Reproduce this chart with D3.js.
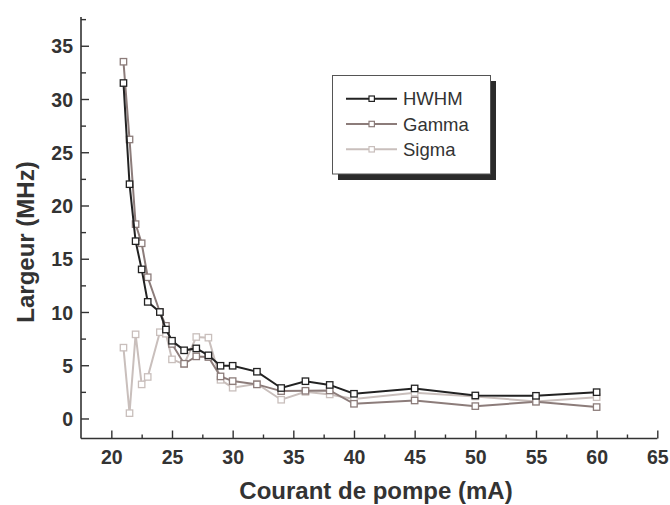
<!DOCTYPE html>
<html><head><meta charset="utf-8">
<script src="https://cdn.jsdelivr.net/npm/d3@7"></script>
<style>
html,body{margin:0;padding:0;background:#fff;}
svg{display:block;font-family:"Liberation Sans",Arial,Helvetica,sans-serif;}
</style></head>
<body>
<svg id="chart" width="670" height="505"></svg>
<script>
const current = [21, 21.5, 22, 22.5, 23, 24, 24.5, 25, 26, 27, 28, 29, 30, 32, 34, 36, 38, 40, 45, 50, 55, 60];
const hwhm  = [31.5, 22.0, 16.65, 14.0, 10.95, 10.0, 8.35, 7.3, 6.4, 6.58, 5.93, 4.95, 4.95, 4.39, 2.86, 3.5, 3.15, 2.32, 2.82, 2.16, 2.13, 2.47];
const gamma = [33.5, 26.2, 18.25, 16.45, 13.26, 10.0, 8.7, 7.0, 5.14, 5.83, 5.77, 3.95, 3.51, 3.2, 2.57, 2.6, 2.63, 1.38, 1.69, 1.16, 1.57, 1.07];
const sigma = [6.65, 0.5, 7.9, 3.2, 3.9, 8.1, 7.96, 5.55, 5.1, 7.65, 7.59, 3.63, 2.89, 3.26, 1.76, 2.5, 2.26, 1.82, 2.42, 2.07, 1.6, 2.0];
const seriesNames = ["HWHM", "Gamma", "Sigma"];
const seriesColors = ["#222222", "#8c7c7a", "#c9bfbc"];
const xTicks = [20, 25, 30, 35, 40, 45, 50, 55, 60, 65];
const yTicks = [0, 5, 10, 15, 20, 25, 30, 35];
const xTitle = "Courant de pompe (mA)";
const yTitle = "Largeur (MHz)";

const svg = d3.select("#chart");
const x = d3.scaleLinear().domain([17.5, 65]).range([81, 657.3]);
const y = d3.scaleLinear().domain([-1.88, 37.7]).range([438.5, 17]);
const axisColor = "#333";

// axes
const gx = svg.append("g").attr("transform", `translate(0,${y.range()[0]})`);
gx.call(d3.axisBottom(x).tickValues(d3.range(17.5, 65.01, 2.5).filter(v => v > 17.6)).tickSize(0).tickFormat(""));
gx.select(".domain").remove();
gx.append("line").attr("x1", x.range()[0]).attr("x2", x.range()[1]).attr("stroke", axisColor).attr("stroke-width", 1.6);
gx.selectAll(".tick line").remove();
gx.selectAll(".tick").append("line")
  .attr("y1", 0).attr("y2", d => (d % 5 === 0 ? -8 : -4))
  .attr("stroke", axisColor).attr("stroke-width", 1.4);
gx.selectAll(".tick").filter(d => xTicks.includes(d)).append("text")
  .attr("y", 25).attr("text-anchor", "middle")
  .attr("font-size", 19.5).attr("font-weight", "bold").attr("fill", "#333")
  .text(d => d);

const gy = svg.append("g").attr("transform", `translate(${x.range()[0]},0)`);
gy.call(d3.axisLeft(y).tickValues(d3.range(0, 37.51, 2.5)).tickSize(0).tickFormat(""));
gy.select(".domain").remove();
gy.append("line").attr("y1", y.range()[0]).attr("y2", y.range()[1]).attr("stroke", axisColor).attr("stroke-width", 1.6);
gy.selectAll(".tick line").remove();
gy.selectAll(".tick").append("line")
  .attr("x1", 0).attr("x2", d => (d % 5 === 0 ? 8 : 5))
  .attr("stroke", axisColor).attr("stroke-width", 1.4);
gy.selectAll(".tick").filter(d => yTicks.includes(d)).append("text")
  .attr("x", -8).attr("dy", "0.36em").attr("text-anchor", "end")
  .attr("font-size", 19.5).attr("font-weight", "bold").attr("fill", "#333")
  .text(d => d);

// titles
svg.append("text").attr("x", 376).attr("y", 499).attr("text-anchor", "middle")
  .attr("font-size", 24).attr("font-weight", "bold").attr("fill", "#333").text(xTitle);
svg.append("text").attr("transform", "translate(34,242) rotate(-90)").attr("text-anchor", "middle")
  .attr("font-size", 24).attr("font-weight", "bold").attr("fill", "#333").text(yTitle);

// series
const allSeries = [hwhm, gamma, sigma];
const line = d3.line().x(d => x(d[0])).y(d => y(d[1]));
const order = [2, 1, 0];
order.forEach(i => {
  const pts = current.map((c, k) => [c, allSeries[i][k]]);
  const g = svg.append("g");
  g.append("path").attr("d", line(pts)).attr("fill", "none")
    .attr("stroke", seriesColors[i]).attr("stroke-width", 2);
  g.selectAll("rect").data(pts).join("rect")
    .attr("x", d => x(d[0]) - 3.2).attr("y", d => y(d[1]) - 3.2)
    .attr("width", 6.4).attr("height", 6.4)
    .attr("fill", "#fff").attr("stroke", seriesColors[i]).attr("stroke-width", 1.3);
});

// legend
const lg = svg.append("g");
lg.append("rect").attr("x", 338).attr("y", 81).attr("width", 158).attr("height", 99).attr("fill", "#2b2b2b");
lg.append("rect").attr("x", 332.5).attr("y", 75.5).attr("width", 158).attr("height", 98.5)
  .attr("fill", "#fff").attr("stroke", "#555").attr("stroke-width", 1);
seriesNames.forEach((name, i) => {
  const yy = 98.7 + i * 25.3;
  lg.append("line").attr("x1", 346).attr("x2", 397).attr("y1", yy).attr("y2", yy)
    .attr("stroke", seriesColors[i]).attr("stroke-width", 2);
  lg.append("rect").attr("x", 369).attr("y", yy - 2.7).attr("width", 5.4).attr("height", 5.4)
    .attr("fill", "#fff").attr("stroke", seriesColors[i]).attr("stroke-width", 1.2);
  lg.append("text").attr("x", 403).attr("y", yy).attr("dy", "0.36em")
    .attr("font-size", 18.5).attr("fill", "#333").text(name);
});
</script>
</body></html>
